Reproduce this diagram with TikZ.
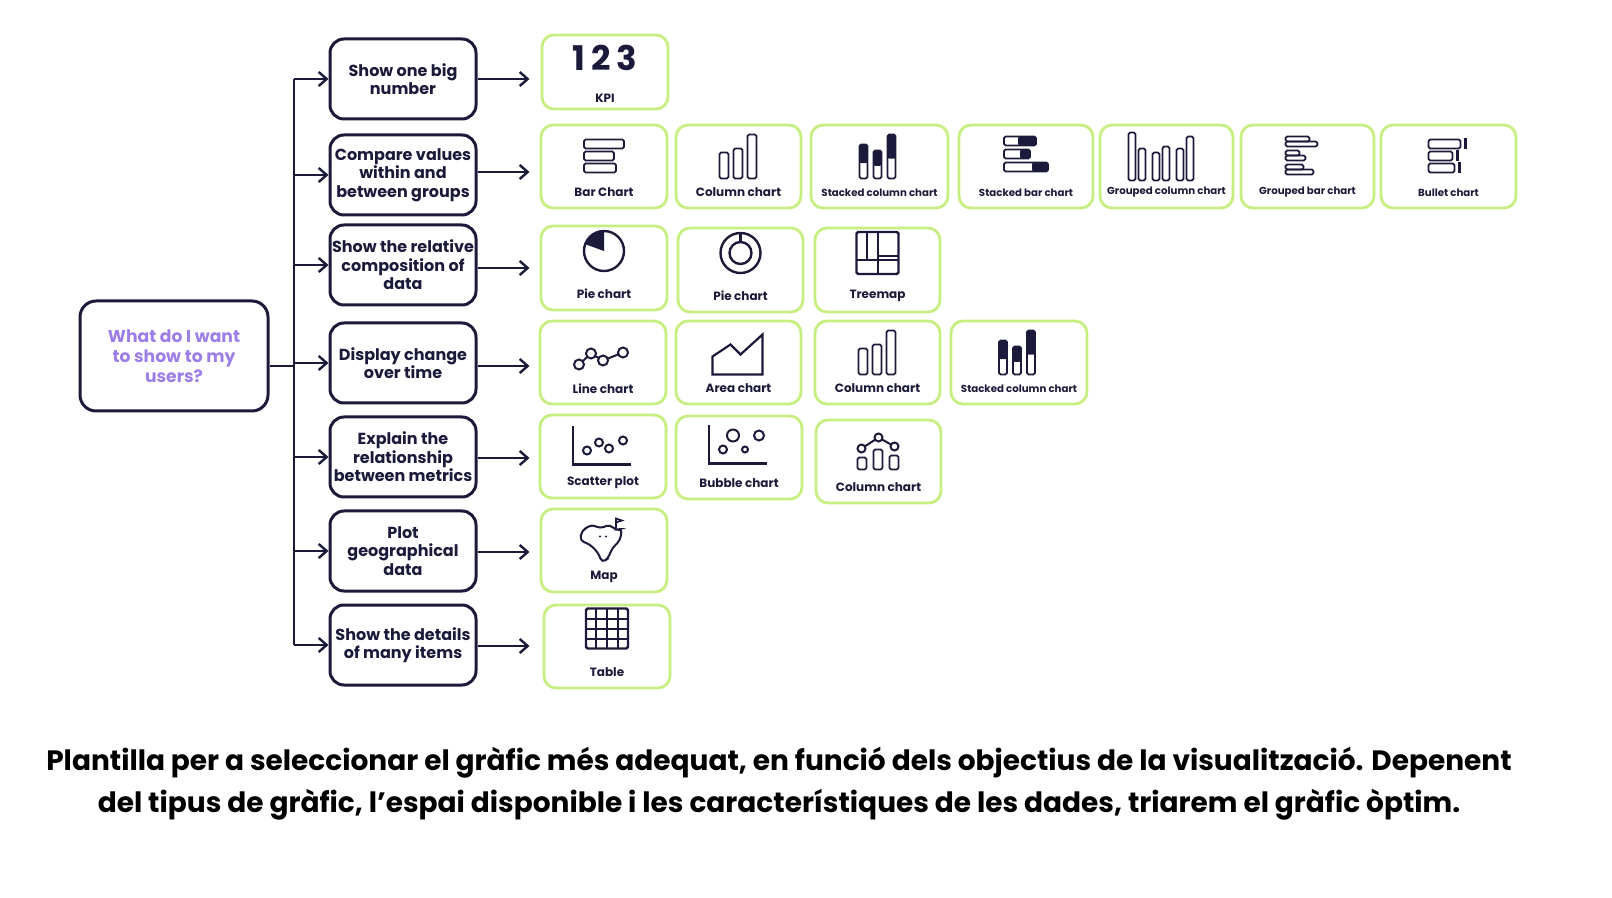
\documentclass[tikz,border=0pt]{standalone}
\usepackage{fontspec}
\setmainfont{Poppins}[UprightFont=* SemiBold,BoldFont=* Bold]
\usetikzlibrary{positioning, arrows.meta}
\definecolor{ink}{HTML}{1C1A3A}
\definecolor{lime}{HTML}{C6EE80}
\definecolor{lilac}{HTML}{9D7EE8}
\tikzset{
  question/.style={draw=ink, line width=1.5pt, rounded corners=8pt, minimum width=94pt, minimum height=55pt, align=center, text=lilac, font=\fontsize{8.6}{10}\selectfont\bfseries},
  goal/.style={draw=ink, line width=1.5pt, rounded corners=7pt, minimum width=73pt, minimum height=40pt, align=center, text=ink, font=\fontsize{8}{9.2}\selectfont\bfseries, inner sep=1pt},
  card/.style={draw=lime, line width=1.4pt, rounded corners=6pt, minimum height=41pt, text=ink},
  cardlabel/.style={font=\fontsize{6}{7}\selectfont\bfseries, text=ink},
  narrow/.style={font=\fontsize{5.1}{6}\selectfont\bfseries},
  icon/.style={draw=ink, line width=0.9pt, rounded corners=0.8pt},
  link/.style={draw=ink, line width=1.2pt, -{Straight Barb[length=4pt,width=7pt]}}
}
% card: name, x0, x1, y0, y1, label, extra label style
\newcommand{\card}[7][]{%
  \node[card, minimum width={(#4-#3)*0.5pt}, minimum height={(#6-#5)*0.5pt}] (#2) at ({(#3+#4)/2},{(#5+#6)/2}) {};
  \node[cardlabel, #1] (#2-lbl) at ([yshift=-26*0.5pt]#2.center) {#7};}
\begin{document}
\begin{tikzpicture}[x=0.5pt,y=-0.5pt]
\useasboundingbox (0,0) rectangle (1612,898);

% question and goals
\node[question] (ask) at (174,356) {What do I want\\to show to my\\users?};
\node[goal] (g1) at (403,79)  {Show one big\\number};
\node[goal] (g2) at (403,175) {Compare values\\within and\\between groups};
\node[goal] (g3) at (403,265) {Show the relative\\composition of\\data};
\node[goal] (g4) at (403,363) {Display change\\over time};
\node[goal] (g5) at (403,457) {Explain the\\relationship\\between metrics};
\node[goal] (g6) at (403,551) {Plot\\geographical\\data};
\node[goal] (g7) at (403,645) {Show the details\\of many items};

\coordinate (top) at (294,79);
\coordinate (bot) at (294,645);
\draw[ink, line width=1.2pt] (top) -- (bot);
\draw[ink, line width=1.2pt] (ask.east |- 0,366) -- (top |- 0,366);
\foreach \g in {g1,g2,g3,g4,g5,g6,g7}
  \draw[link] (top |- \g.west) -- (\g.west);
\foreach \g/\y in {g1/79,g2/172,g3/268,g4/366,g5/458,g6/552,g7/646}
  \draw[link] (\g.east |- 0,\y) -- ++(52,0);

% cards
\card{kpi}{542}{668}{35}{109}{KPI}
\card{bar}{541}{667}{125}{208}{Bar Chart}
\card{col}{676}{801}{125}{208}{Column chart}
\card[narrow]{stcol}{811}{948}{125}{208}{Stacked column chart}
\card[narrow]{stbar}{959}{1093}{125}{208}{Stacked bar chart}
\card[narrow]{grcol}{1100}{1233}{125}{208}{Grouped column chart}
\card[narrow]{grbar}{1241}{1374}{125}{208}{Grouped bar chart}
\card[narrow]{bullet}{1381}{1516}{125}{208}{Bullet chart}
\card{pie}{541}{667}{226}{310}{Pie chart}
\card{donut}{678}{803}{228}{312}{Pie chart}
\card{tree}{815}{940}{228}{312}{Treemap}
\card{line}{540}{666}{321}{404}{Line chart}
\card{area}{676}{801}{321}{404}{Area chart}
\card{col2}{815}{940}{321}{404}{Column chart}
\card[narrow]{stcol2}{951}{1087}{321}{404}{Stacked column chart}
\card{scatter}{540}{666}{415}{498}{Scatter plot}
\card{bubble}{676}{802}{416}{499}{Bubble chart}
\card{net}{816}{941}{420}{503}{Column chart}
\card{map}{541}{667}{509}{592}{Map}
\card{table}{544}{670}{605}{688}{Table}

% icons
\node[text=ink, font=\fontsize{17}{17}\selectfont\bfseries] at ([yshift=7pt]kpi.center) {1\,2\,3};
\begin{scope}[shift={(bar.center)}]
  \foreach \y/\w in {-27/40,-15/30,-3/32} \draw[icon] (-20,\y) rectangle ++(\w,9);
\end{scope}
\foreach \c in {col,col2} {\begin{scope}[shift={(\c.center)}]
  \foreach \x/\h in {-19/26,-5/30,9/44} \draw[icon] (\x,12) rectangle ++(9,-\h);
\end{scope}}
\foreach \c in {stcol,stcol2} {\begin{scope}[shift={(\c.center)}]
  \foreach \x/\h in {-20/34,-6/28,8/44} {
    \fill[ink, rounded corners=1pt] (\x,12-\h) rectangle ++(8,\h*0.55);
    \draw[icon] (\x,12) rectangle ++(8,-\h);}
\end{scope}}
\begin{scope}[shift={(stbar.center)}]
  \foreach \y/\w/\f in {-30/32/18,-17/26/10,-4/44/16} {
    \fill[ink, rounded corners=1pt] (-22+\w-\f,\y) rectangle ++(\f,9);
    \draw[icon] (-22,\y) rectangle ++(\w,9);}
\end{scope}
\begin{scope}[shift={(grcol.center)}]
  \foreach \x/\h in {-38/48,-28/32,-14/28,-4/34,10/32,20/44} \draw[icon] (\x,14) rectangle ++(7,-\h);
\end{scope}
\begin{scope}[shift={(grbar.center)}]
  \foreach \y/\w in {-30/24,-25/32,-16/14,-11/20,-2/18,3/28} \draw[icon] (-22,\y) rectangle ++(\w,5);
\end{scope}
\begin{scope}[shift={(bullet.center)}]
  \foreach \y/\w in {-27/32,-15/24,-3/26} {
    \draw[icon] (-20,\y) rectangle ++(\w,9);
    \fill[ink] (-20+\w+3,\y-1) rectangle ++(3,11);}
\end{scope}
\begin{scope}[shift={(pie.center)}]
  \fill[ink] (0,-17) -- (0,-37) -- (-6.8,-35.8) -- (-12.9,-32.3) -- (-17.3,-27) -- (-18.8,-23.8) -- cycle;
  \draw[icon, line width=1.2pt] (0,-17) circle (20);
\end{scope}
\begin{scope}[shift={(donut.center)}]
  \draw[icon, line width=1.2pt] (0,-17) circle (20);
  \draw[icon, line width=1.2pt] (0,-17) circle (11);
  \draw[ink, line width=1.2pt] (0,-28) -- (0,-37);
\end{scope}
\begin{scope}[shift={(tree.center)}]
  \draw[icon, line width=1.2pt] (-21,-38) rectangle (21,4);
  \draw[ink, line width=1pt] (-21,-10) -- (21,-10) (0,-10) -- (0,4) (-11,-38) -- (-11,-10) (0,-38) -- (0,-10) (0,-14) -- (21,-14);
\end{scope}
\begin{scope}[shift={(line.center)}]
  \draw[ink, line width=1pt] (-24,2) -- (-12,-9) -- (0,-2) -- (20,-10);
  \foreach \p in {(-24,2),(-12,-9),(0,-2),(20,-10)} \draw[ink, line width=1pt, fill=white] \p circle (5);
\end{scope}
\begin{scope}[shift={(area.center)}]
  \draw[icon, line width=1.1pt, rounded corners=0pt] (-26,12) -- (-26,-6) -- (-8,-18) -- (2,-8) -- (24,-28) -- (24,12) -- cycle;
\end{scope}
\begin{scope}[shift={(scatter.center)}]
  \draw[ink, line width=1.2pt] (-30,-30) -- (-30,8) -- (28,8);
  \foreach \p in {(-16,-6),(-4,-14),(6,-8),(20,-16)} \draw[ink, line width=1pt] \p circle (4);
\end{scope}
\begin{scope}[shift={(bubble.center)}]
  \draw[ink, line width=1.2pt] (-30,-32) -- (-30,6) -- (28,6);
  \foreach \p/\r in {{(-16,-8)}/4,{(-6,-22)}/6,{(6,-8)}/3,{(20,-22)}/5} \draw[ink, line width=1pt] \p circle (\r);
\end{scope}
\begin{scope}[shift={(net.center)}]
  \foreach \x/\h in {-21/12,-5/20,11/14} \draw[icon] (\x,8) rectangle ++(9,-\h);
  \draw[ink, line width=1pt] (-17,-13) -- (0,-24) -- (16,-15);
  \foreach \p in {(-17,-13),(0,-24),(16,-15)} \draw[ink, line width=1pt, fill=white] \p circle (4);
\end{scope}
\begin{scope}[shift={(map.center)}]
  \draw[ink, line width=1pt, rounded corners=2pt] (-22,-20) -- (-12,-26) -- (-4,-22) -- (6,-26) -- (12,-20) -- (18,-22) -- (16,-10) -- (8,-2) -- (4,8) -- (-2,12) -- (-6,2) -- (-14,-6) -- (-24,-10) -- cycle;
  \draw[ink, line width=0.8pt] (12,-22) -- (12,-32) -- (18,-30) -- (12,-28);
  \fill[ink] (-4,-14) circle (1.2) (2,-14) circle (1.2);
\end{scope}
\begin{scope}[shift={(table.center)}]
  \draw[icon, line width=1.2pt] (-21,-38) rectangle (21,2);
  \foreach \x in {-11,0,11} \draw[ink, line width=1pt] (\x,-38) -- (\x,2);
  \foreach \y in {-28,-18,-8} \draw[ink, line width=1pt] (-21,\y) -- (21,\y);
\end{scope}

% caption
\node[text=black, font=\fontsize{14}{21}\selectfont\bfseries, align=center] (caption) at (779,784) {Plantilla per a seleccionar el gràfic més adequat, en funció dels objectius de la visualització. Depenent\\del tipus de gràfic, l'espai disponible i les característiques de les dades, triarem el gràfic òptim.};
\end{tikzpicture}
\end{document}
